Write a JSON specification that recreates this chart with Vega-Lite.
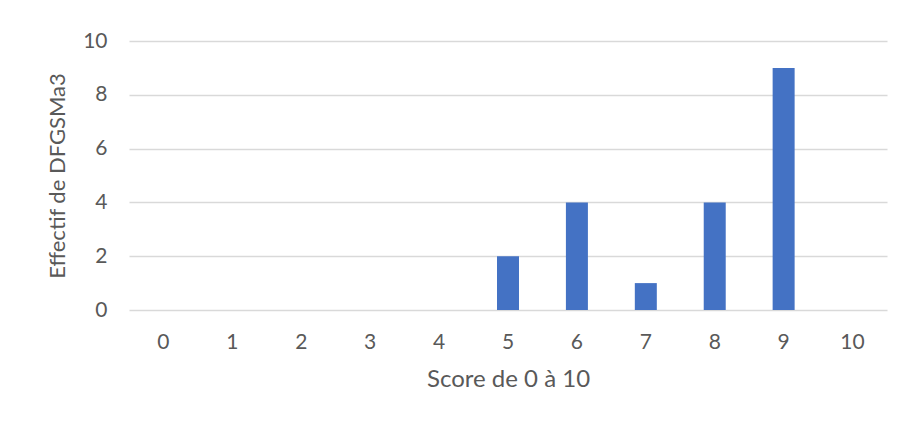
{
  "$schema": "https://vega.github.io/schema/vega-lite/v6.json",
  "autosize": "none",
  "width": 758,
  "height": 269,
  "padding": {"left": 129, "top": 41, "right": 17, "bottom": 111},
  "background": "white",
  "data": {
    "values": [
      {"score": 0, "effectif": 0},
      {"score": 1, "effectif": 0},
      {"score": 2, "effectif": 0},
      {"score": 3, "effectif": 0},
      {"score": 4, "effectif": 0},
      {"score": 5, "effectif": 2},
      {"score": 6, "effectif": 4},
      {"score": 7, "effectif": 1},
      {"score": 8, "effectif": 4},
      {"score": 9, "effectif": 9},
      {"score": 10, "effectif": 0}
    ]
  },
  "mark": {"type": "bar", "color": "#4472C4", "size": 22},
  "encoding": {
    "x": {
      "field": "score",
      "type": "ordinal",
      "scale": {"paddingInner": 0, "paddingOuter": 0},
      "axis": {
        "title": "Score de 0 à 10",
        "labelAngle": 0,
        "ticks": false,
        "domain": false,
        "labelPadding": 21,
        "titlePadding": 15,
        "titleFontSize": 24
      }
    },
    "y": {
      "field": "effectif",
      "type": "quantitative",
      "scale": {"domain": [0, 10]},
      "axis": {
        "title": "Effectif de DFGSMa3",
        "values": [0, 2, 4, 6, 8, 10],
        "ticks": false,
        "domain": false,
        "labelPadding": 22,
        "titlePadding": 13,
        "titleFontSize": 22,
        "gridColor": "#d9d9d9",
        "gridWidth": 1.5
      }
    }
  },
  "config": {
    "view": {"stroke": null},
    "axis": {
      "labelFont": "Lato",
      "titleFont": "Lato",
      "labelColor": "#595959",
      "titleColor": "#595959",
      "labelFontSize": 21,
      "titleFontWeight": "normal"
    }
  }
}
